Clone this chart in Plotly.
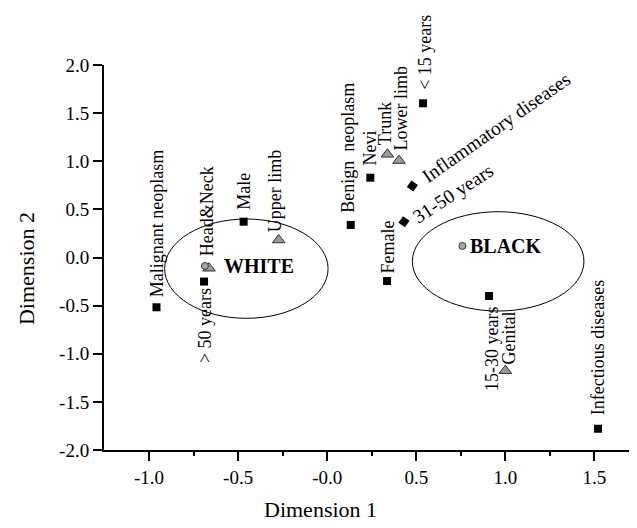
import plotly.graph_objects as go

# ---- data ----
sq_names = ["Malignant neoplasm", "> 50 years", "Male", "Benign  neoplasm", "Nevi",
            "< 15 years", "Female", "15-30 years", "Infectious diseases"]
sq_x = [-0.958, -0.691, -0.469, 0.132, 0.242, 0.538, 0.336, 0.908, 1.520]
sq_y = [-0.517, -0.250, 0.372, 0.338, 0.829, 1.602, -0.244, -0.400, -1.779]

dm_names = ["Inflammatory diseases", "31-50 years"]
dm_x = [0.478, 0.431]
dm_y = [0.743, 0.372]

tri_names = ["Head&Neck", "Upper limb", "Trunk", "Lower limb", "Genital"]
tri_x = [-0.663, -0.272, 0.338, 0.403, 1.000]
tri_y = [-0.112, 0.182, 1.072, 1.007, -1.176]

grp_names = ["WHITE", "BLACK"]
grp_x = [-0.686, 0.759]
grp_y = [-0.088, 0.120]

# ellipse extents around the groups: x0, x1, y0, y1
ell_white = [-0.912, 0.005, -0.632, 0.400]
ell_black = [0.478, 1.441, -0.556, 0.476]

x_tickvals = [-1.0, -0.5, 0.0, 0.5, 1.0, 1.5]
x_ticktext = ["-1.0", "-0.5", "-0.0", "0.5", "1.0", "1.5"]
x_minorvals = [-0.75, -0.25, 0.25, 0.75, 1.25]
y_tickvals = [-2.0, -1.5, -1.0, -0.5, 0.0, 0.5, 1.0, 1.5, 2.0]
y_ticktext = ["-2.0", "-1.5", "-1.0", "-0.5", "0.0", "0.5", "1.0", "1.5", "2.0"]

# ---- label placement (pixel offsets) ----
FONT = "Liberation Serif"
LFS = 18
sq_place = {
    "Malignant neoplasm": (0, 8, "bottom"),
    "> 50 years": (1, -5, "top"),
    "Male": (1, 10, "bottom"),
    "Benign  neoplasm": (-3, 10, "bottom"),
    "Nevi": (0, 10, "bottom"),
    "< 15 years": (2, 11, "bottom"),
    "Female": (1, 5, "bottom"),
    "15-30 years": (3, -9, "top"),
    "Infectious diseases": (0, 11, "bottom"),
}
tri_place = {
    "Head&Neck": (-2, 10, "bottom"),
    "Upper limb": (-3, 6, "bottom"),
    "Trunk": (-3, 7, "bottom"),
    "Lower limb": (2, 8, "bottom"),
    "Genital": (4, 4, "bottom"),
}
dm_place = {
    "Inflammatory diseases": (3, -3, -35),
    "31-50 years": (2, -8, -33),
}

fig = go.Figure()

for e in (ell_white, ell_black):
    fig.add_shape(type="circle", xref="x", yref="y", x0=e[0], x1=e[1], y0=e[2], y1=e[3],
                  line=dict(color="black", width=1), layer="below")

fig.add_trace(go.Scatter(x=sq_x, y=sq_y, mode="markers",
                         marker=dict(symbol="square", size=8, color="black"),
                         hovertext=sq_names, showlegend=False))
fig.add_trace(go.Scatter(x=dm_x, y=dm_y, mode="markers",
                         marker=dict(symbol="square", size=8, color="black", angle=35),
                         hovertext=dm_names, showlegend=False))
fig.add_trace(go.Scatter(x=tri_x, y=tri_y, mode="markers",
                         marker=dict(symbol="triangle-up", size=11, color="#9a9a9a",
                                     line=dict(color="#333333", width=1)),
                         hovertext=tri_names, showlegend=False))
fig.add_trace(go.Scatter(x=grp_x, y=grp_y, mode="markers",
                         marker=dict(symbol="circle", size=7, color="#a8a8a8",
                                     line=dict(color="#333333", width=1)),
                         hovertext=grp_names, showlegend=False))

anns = []
for n, x, y in zip(sq_names, sq_x, sq_y):
    dx, dy, ya = sq_place[n]
    anns.append(dict(x=x, y=y, text=n, showarrow=False, textangle=-90,
                     xanchor="center", yanchor=ya, xshift=dx, yshift=dy,
                     font=dict(family=FONT, size=LFS, color="black")))
for n, x, y in zip(tri_names, tri_x, tri_y):
    dx, dy, ya = tri_place[n]
    anns.append(dict(x=x, y=y, text=n, showarrow=False, textangle=-90,
                     xanchor="center", yanchor=ya, xshift=dx, yshift=dy,
                     font=dict(family=FONT, size=LFS, color="black")))
for n, x, y in zip(dm_names, dm_x, dm_y):
    dx, dy, ang = dm_place[n]
    anns.append(dict(x=x, y=y, text=n, showarrow=False, textangle=ang,
                     xanchor="left", yanchor="bottom", xshift=dx, yshift=dy,
                     font=dict(family=FONT, size=19.5, color="black")))
for n, x, y, dx in zip(grp_names, grp_x, grp_y, [17, 6]):
    anns.append(dict(x=x, y=y, text="<b>" + n + "</b>", showarrow=False,
                     xanchor="left", yanchor="middle", xshift=dx, yshift=0,
                     font=dict(family=FONT, size=20, color="black")))

anns.append(dict(xref="paper", yref="paper", x=0.411, y=-0.155, text="Dimension 1",
                 showarrow=False, xanchor="center", yanchor="middle",
                 font=dict(family=FONT, size=22, color="black")))
anns.append(dict(xref="paper", yref="paper", x=-0.148, y=0.47, text="Dimension 2",
                 showarrow=False, xanchor="center", yanchor="middle", textangle=-90,
                 font=dict(family=FONT, size=22, color="black")))

fig.update_layout(
    width=629, height=520,
    margin=dict(l=96, r=6, t=57, b=78),
    paper_bgcolor="white", plot_bgcolor="white",
    font=dict(family=FONT, color="black"),
    annotations=anns,
    showlegend=False,
    xaxis=dict(range=[-1.2525, 1.705], showgrid=False, zeroline=False,
               showline=True, linecolor="black", linewidth=2,
               ticks="outside", ticklen=9, tickwidth=2, tickcolor="black",
               tickvals=x_tickvals, ticktext=x_ticktext,
               tickfont=dict(family=FONT, size=19, color="black"),
               minor=dict(tickvals=x_minorvals, ticks="outside", ticklen=4,
                          tickwidth=2, tickcolor="black")),
    yaxis=dict(range=[-2.0, 2.0], showgrid=False, zeroline=False,
               showline=True, linecolor="black", linewidth=2,
               ticks="outside", ticklen=9, tickwidth=2, tickcolor="black",
               tickvals=y_tickvals, ticktext=y_ticktext,
               tickfont=dict(family=FONT, size=19, color="black")),
)

fig.write_html("out.html")
